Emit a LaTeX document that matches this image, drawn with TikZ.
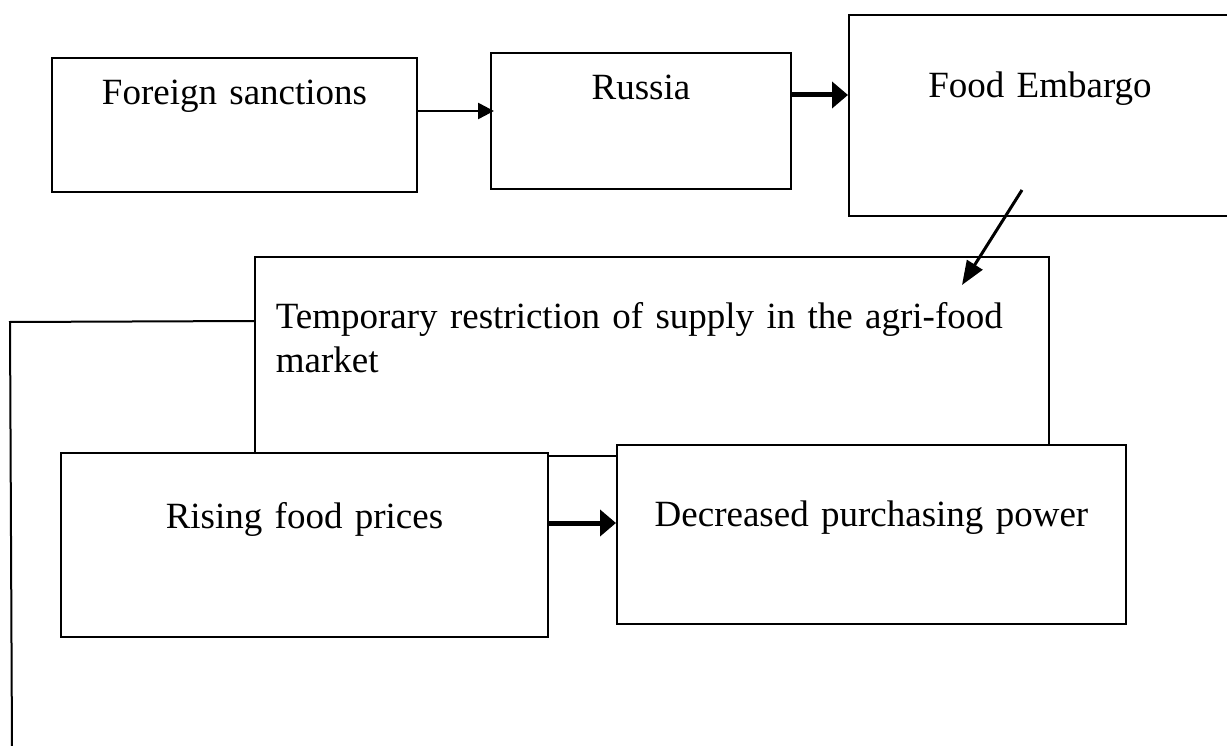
\documentclass[tikz,border=0pt]{standalone}
\usepackage{fontspec}
\setmainfont{Liberation Serif}
\usetikzlibrary{arrows.meta}

\begin{document}
\begin{tikzpicture}[x=1pt,y=-1pt]
      \tikzstyle{bloc}=[draw,fill=white,line width=2pt,inner sep=0pt,anchor=north west,align=center,font=\fontsize{37}{44}\selectfont]
      \tikzstyle{fleche}=[line width=2.5pt,-{Triangle[length=16pt,width=16pt]}]
      \tikzstyle{grosse}=[line width=5pt,-{Triangle[length=16pt,width=26pt]}]
      \tikzstyle{diag}=[line width=3pt,-{Triangle[length=24pt,width=18pt]}]
      \tikzstyle{lien}=[line width=2pt]
      \useasboundingbox (0,0) rectangle (1227,746);
      \node[bloc,line width=1.8pt,align=left,inner xsep=21pt,text width=752pt,text height=72pt,text depth=127pt] (restr) at (254,256) {Temporary restriction of supply in the agri-food\\market};
      \node[bloc,text width=365pt,text height=47pt,text depth=87pt] (sanct) at (51,57) {Foreign sanctions};
      \node[bloc,text width=300pt,text height=47pt,text depth=89pt] (russie) at (490,52) {Russia};
      \node[bloc,text width=382pt,text height=83pt,text depth=118pt] (embargo) at (848,14) {Food Embargo};
      \node[bloc,text width=487pt,text height=75pt,text depth=109pt] (prix) at (60,452) {Rising food prices};
      \node[bloc,text width=509pt,text height=81pt,text depth=98pt] (pouvoir) at (616,444) {Decreased purchasing power};
      \coordinate (embout) at (1022,190);
      \coordinate (restrin) at (962,285);
      \coordinate (coin) at (10,322);
      \coordinate (bas) at (12,750);
      \draw[fleche,shorten >=-4pt] ([yshift=14pt]sanct.east) -- ([yshift=14pt]sanct.east -| russie.west);
      \draw[grosse] ([yshift=26pt]russie.east) -- ([yshift=26pt]russie.east -| embargo.west);
      \draw[diag] (embout) -- (restrin);
      \draw[grosse] ([yshift=22pt]prix.east) -- ([yshift=22pt]prix.east -| pouvoir.west);
      \draw[lien] ([yshift=-65pt]restr.north west) -- (coin) -- (bas);
    \end{tikzpicture}
\end{document}
